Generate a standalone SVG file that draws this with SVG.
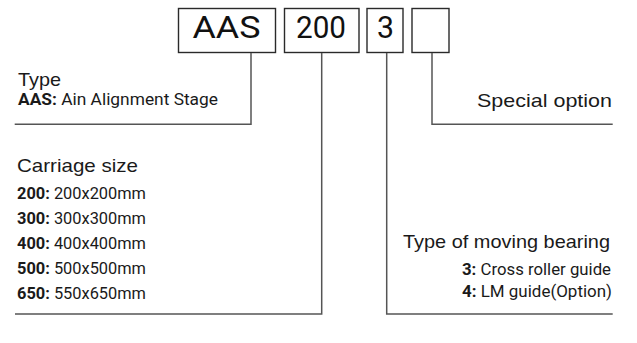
<svg xmlns="http://www.w3.org/2000/svg" width="637" height="343" viewBox="0 0 637 343">
<style>
.box{fill:#fff;stroke:#2a2a2a;stroke-width:1.4}
.bt{font-family:"Roboto","Liberation Sans",sans-serif;font-size:32px;fill:#111}
.h{font-family:"Liberation Sans","Arial",sans-serif;font-size:19px;fill:#1a1a1a}
.c{font-family:"Roboto","Liberation Sans",sans-serif;font-size:17px;fill:#1a1a1a}
.b{font-weight:bold}
.ln{fill:none;stroke:#555;stroke-width:1.5}
</style>
<rect width="637" height="343" fill="#fff"/>
<g id="code-aas"><rect class="box" x="178.5" y="8.5" width="97" height="44"/><text class="bt" x="192.5" y="38" textLength="68" lengthAdjust="spacingAndGlyphs">AAS</text></g>
<g id="code-200"><rect class="box" x="284.5" y="8.5" width="74.5" height="44"/><text class="bt" x="296" y="38" textLength="50" lengthAdjust="spacingAndGlyphs">200</text></g>
<g id="code-3"><rect class="box" x="367" y="8.5" width="36" height="44"/><text class="bt" x="377" y="38" textLength="17" lengthAdjust="spacingAndGlyphs">3</text></g>
<g id="code-option"><rect class="box" x="412" y="8.5" width="37" height="44"/></g>
<g id="connectors">
<polyline class="ln" points="251,53 251,124.3 14.7,124.3"/>
<polyline class="ln" points="321.7,53 321.7,314 15,314"/>
<polyline class="ln" points="386.7,53 386.7,314 612.7,314"/>
<polyline class="ln" points="432,53 432,124.3 612.7,124.3"/>
</g>
<g id="type">
<text class="h" x="18" y="86" textLength="43" lengthAdjust="spacingAndGlyphs">Type</text>
<text class="c" x="18" y="105" textLength="200" lengthAdjust="spacingAndGlyphs"><tspan class="b">AAS:</tspan> Ain Alignment Stage</text>
</g>
<g id="carriage-size">
<text class="h" x="17" y="172" textLength="121" lengthAdjust="spacingAndGlyphs">Carriage size</text>
<text class="c" x="17" y="199" textLength="129" lengthAdjust="spacingAndGlyphs"><tspan class="b">200:</tspan> 200x200mm</text>
<text class="c" x="17" y="223.5" textLength="129" lengthAdjust="spacingAndGlyphs"><tspan class="b">300:</tspan> 300x300mm</text>
<text class="c" x="17" y="249" textLength="129" lengthAdjust="spacingAndGlyphs"><tspan class="b">400:</tspan> 400x400mm</text>
<text class="c" x="17" y="273.5" textLength="129" lengthAdjust="spacingAndGlyphs"><tspan class="b">500:</tspan> 500x500mm</text>
<text class="c" x="17" y="299" textLength="129" lengthAdjust="spacingAndGlyphs"><tspan class="b">650:</tspan> 550x650mm</text>
</g>
<g id="special-option">
<text class="h" x="477" y="107" textLength="135" lengthAdjust="spacingAndGlyphs">Special option</text>
</g>
<g id="moving-bearing">
<text class="h" x="403" y="248.3" textLength="207" lengthAdjust="spacingAndGlyphs">Type of moving bearing</text>
<text class="c" x="462" y="274.5" textLength="149" lengthAdjust="spacingAndGlyphs"><tspan class="b">3:</tspan> Cross roller guide</text>
<text class="c" x="462" y="297" textLength="150" lengthAdjust="spacingAndGlyphs"><tspan class="b">4:</tspan> LM guide(Option)</text>
</g>
</svg>
